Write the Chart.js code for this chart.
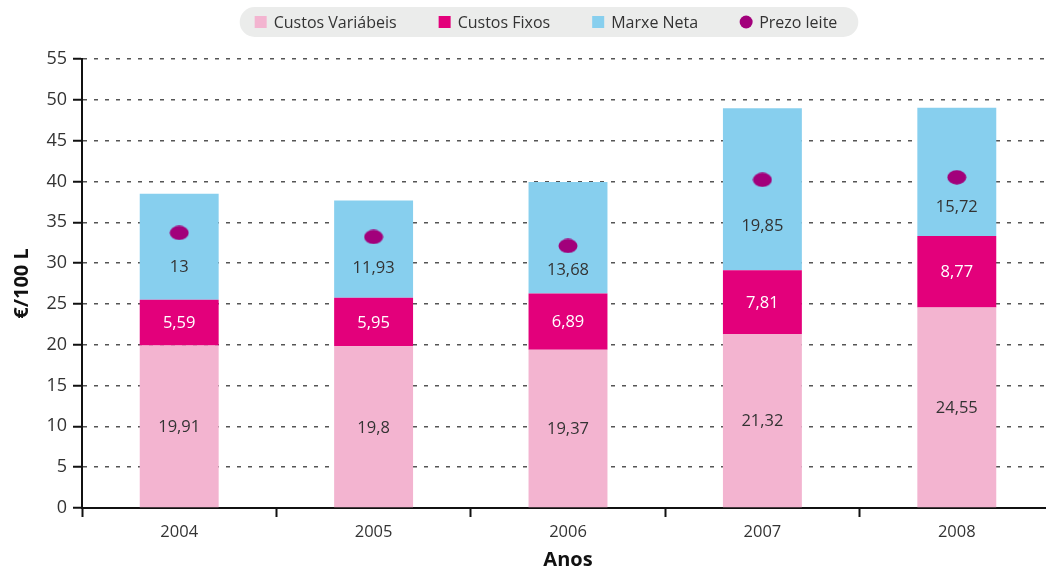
<!DOCTYPE html>
<html>
<head>
<meta charset="utf-8">
<script src="https://cdn.jsdelivr.net/npm/chart.js@4.4.1/dist/chart.umd.min.js"></script>
<style>
html, body { margin: 0; padding: 0; background: #fff; overflow: hidden; }
</style>
</head>
<body>
<canvas id="grafico" width="1059" height="572"></canvas>
<script>
const anos = ['2004', '2005', '2006', '2007', '2008']
const custosVariabeis = [19.91, 19.8, 19.37, 21.32, 24.55]
const custosFixos = [5.59, 5.95, 6.89, 7.81, 8.77]
const marxeNeta = [13, 11.93, 13.68, 19.85, 15.72]
const prezoLeite = [33.7, 33.2, 32.1, 40.2, 40.5]
const eixoY = { min: 0, max: 55, paso: 5 }

const FONTE = '"Open Sans", "Noto Sans", sans-serif'
const fmt = v => String(v).replace('.', ',')

// punto elíptico para o prezo do leite
const punto = document.createElement('canvas')
punto.width = 20
punto.height = 15
const pctx = punto.getContext('2d')
pctx.fillStyle = '#a2007b'
pctx.beginPath()
pctx.ellipse(10, 7.5, 9.5, 7.2, 0, 0, Math.PI * 2)
pctx.fill()

const etiquetas = {
  id: 'etiquetas',
  afterDatasetsDraw (chart) {
    const ctx = chart.ctx
    const puntos = chart.getDatasetMeta(3).data
    ctx.save()
    ctx.font = '16.5px ' + FONTE
    ctx.textAlign = 'center'
    ctx.textBaseline = 'middle'
    for (let d = 0; d < 3; d++) {
      const ds = chart.data.datasets[d]
      chart.getDatasetMeta(d).data.forEach((barra, i) => {
        let y = (barra.y + barra.base) / 2
        if (d === 2) y = (puntos[i].y + barra.base) / 2
        ctx.fillStyle = ds.corTexto
        ctx.fillText(fmt(ds.data[i]), barra.x, y + 1)
      })
    }
    ctx.restore()
  }
}

const lenda = {
  id: 'lenda',
  afterDraw (chart) {
    const ctx = chart.ctx
    ctx.save()
    ctx.font = '16px ' + FONTE
    const items = chart.data.datasets.map(ds => ({
      texto: ds.label,
      cor: ds.corLenda || ds.backgroundColor,
      redondo: ds.type === 'line'
    }))
    const caixa = 12, oco = 7, espazo = 42
    const anchos = items.map(it => caixa + oco + ctx.measureText(it.texto).width)
    const total = anchos.reduce((a, b) => a + b, 0) + espazo * (items.length - 1)
    const centro = 546, yc = 22
    const x0 = centro - total / 2
    ctx.fillStyle = '#ebeceb'
    ctx.beginPath()
    ctx.roundRect(x0 - 15, 7, total + 36, 30, 15)
    ctx.fill()
    let x = x0
    items.forEach((it, i) => {
      ctx.fillStyle = it.cor
      if (it.redondo) {
        ctx.beginPath()
        ctx.arc(x + caixa / 2, yc, 6.5, 0, Math.PI * 2)
        ctx.fill()
      } else {
        ctx.fillRect(x, yc - caixa / 2, caixa, caixa)
      }
      ctx.fillStyle = '#333'
      ctx.textBaseline = 'middle'
      ctx.fillText(it.texto, x + caixa + oco, yc + 1)
      x += anchos[i] + espazo
    })
    ctx.restore()
  }
}

new Chart(document.getElementById('grafico'), {
  type: 'bar',
  data: {
    labels: anos,
    datasets: [
      { label: 'Custos Variábeis', data: custosVariabeis, backgroundColor: '#f3b4d0', corTexto: '#333', order: 1 },
      { label: 'Custos Fixos', data: custosFixos, backgroundColor: '#e3007b', corTexto: '#fff', order: 1 },
      { label: 'Marxe Neta', data: marxeNeta, backgroundColor: '#87cfee', corTexto: '#333', order: 1 },
      {
        type: 'line', label: 'Prezo leite', data: prezoLeite, showLine: false,
        pointStyle: punto, corLenda: '#a2007b', backgroundColor: '#a2007b', order: 0
      }
    ]
  },
  options: {
    responsive: false,
    animation: false,
    devicePixelRatio: 1,
    barPercentage: 0.406,
    categoryPercentage: 1,
    layout: { padding: { top: 59, left: 0, right: 0, bottom: 0 } },
    plugins: {
      legend: { display: false },
      tooltip: { enabled: false }
    },
    scales: {
      x: {
        stacked: true,
        afterFit: s => { s.height = 64 },
        grid: { display: true, drawOnChartArea: false, drawTicks: true, tickColor: '#111', tickLength: 9, tickWidth: 2 },
        border: { color: '#111', width: 2 },
        ticks: { color: '#333', font: { family: FONTE, size: 16.5 }, padding: 5 },
        title: { display: true, text: 'Anos', color: '#111', font: { family: FONTE, size: 20, weight: 'bold' }, padding: { top: 0, bottom: 0 } }
      },
      y: {
        stacked: true,
        min: eixoY.min,
        max: eixoY.max,
        afterFit: s => { s.width = 82 },
        grid: { color: '#555', lineWidth: 1.5, tickColor: '#111', tickLength: 9, tickWidth: 2 },
        border: { color: '#111', width: 2, dash: [4, 7] },
        ticks: { stepSize: eixoY.paso, color: '#333', font: { family: FONTE, size: 18 }, padding: 6 },
        title: { display: true, text: '€/100 L', color: '#111', font: { family: FONTE, size: 20, weight: 'bold' }, padding: { top: 10, bottom: 0 } }
      }
    }
  },
  plugins: [etiquetas, lenda]
})
</script>
</body>
</html>
